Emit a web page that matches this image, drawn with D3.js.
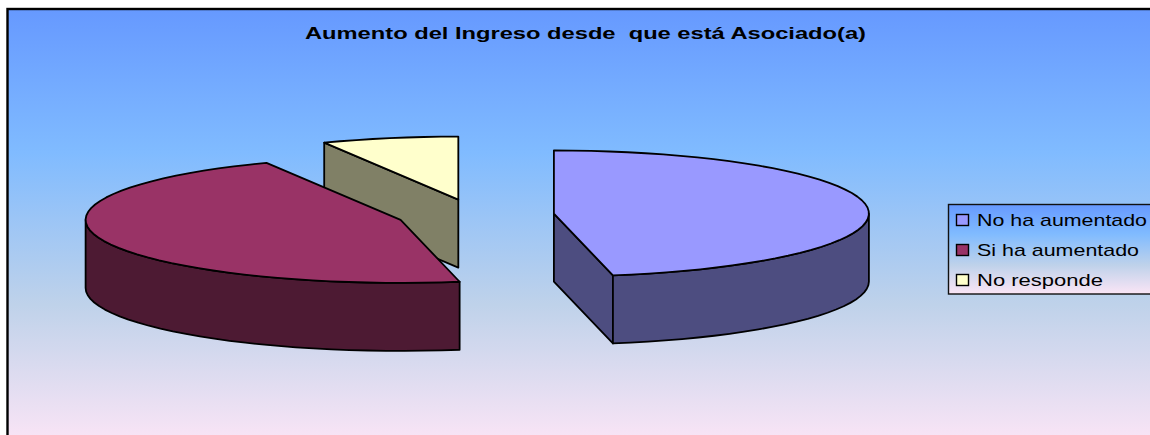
<!DOCTYPE html>
<html><head><meta charset="utf-8">
<script src="https://cdn.jsdelivr.net/npm/d3@7"></script>
<style>html,body{margin:0;padding:0;background:#fff}svg{display:block}</style>
</head><body><svg id="c" width="1150" height="435"></svg>
<script>
const titleText = "Aumento del Ingreso desde  que está Asociado(a)";
const categories = ["No ha aumentado", "Si ha aumentado", "No responde"];
const values = [47, 46, 7];
const topColors = ["#9999FF", "#993366", "#FFFFCC"];
const sideColors = ["#4D4D80", "#4D1A33", "#808066"];

const W = 1150, H = 435;
const svg = d3.select("#c");
const defs = svg.append("defs");
function grad(id) {
  const g = defs.append("linearGradient").attr("id", id).attr("x1", 0).attr("y1", 0).attr("x2", 0).attr("y2", 1);
  [[0, "#6699FF"], [0.33, "#80BBFF"], [0.68, "#BFD2EA"], [1, "#FBE5F6"]].forEach(s =>
    g.append("stop").attr("offset", s[0]).attr("stop-color", s[1]));
}
grad("bg"); grad("lg");

svg.append("rect").attr("x", 7.5).attr("y", 9).attr("width", W).attr("height", H)
  .attr("fill", "url(#bg)").attr("stroke", "#000").attr("stroke-width", 2.4);

svg.append("text").attr("x", 305).attr("y", 38.5).text(titleText)
  .attr("xml:space", "preserve").style("white-space", "pre")
  .attr("font-family", "Liberation Sans").attr("font-weight", "bold").attr("font-size", 16)
  .attr("textLength", 561).attr("lengthAdjust", "spacingAndGlyphs").attr("fill", "#000");

// 3D pie projection
const cx = 475.5, cy = 215, rx = 315, tilt = 0.2, depth = 68, explode = 0.25;
const arcs = d3.pie().sort(null).value(d => d)(values);
const rScale = d3.scaleLinear().domain([0, 1]).range([0, rx]);
function pt(a, r, off, dz) {
  const ex = rScale(explode) * Math.sin(off), ey = rScale(explode) * -Math.cos(off) * tilt;
  return [cx + ex + rScale(r) * Math.sin(a), cy + ey - rScale(r) * Math.cos(a) * tilt + (dz || 0)];
}
const line = d3.line();
function arcPts(a0, a1, off, dz) {
  const n = Math.max(2, Math.ceil((a1 - a0) / 0.06));
  return d3.range(n + 1).map(i => pt(a0 + (a1 - a0) * i / n, 1, off, dz));
}
const stroke = (s) => s.attr("stroke", "#000").attr("stroke-width", 1.8).attr("stroke-linejoin", "round");

// back-to-front: No responde, No ha aumentado, Si ha aumentado
[2, 1, 0].forEach(i => {
  const d = arcs[i], off = (d.startAngle + d.endAngle) / 2;
  const a0 = d.startAngle, a1 = d.endAngle;
  const g = svg.append("g");
  // cut faces visible from the viewer
  const faces = [];
  if (i === 0) faces.push(a1);
  if (i === 2) faces.push(a0);
  faces.forEach(a => {
    g.append("path").attr("d", line([pt(0, 0, off), pt(a, 1, off), pt(a, 1, off, depth), pt(0, 0, off, depth)]) + "Z")
      .attr("fill", sideColors[i]).call(stroke);
  });
  // outer wall: front half of the rim only
  const w0 = Math.max(a0, Math.PI / 2), w1 = Math.min(a1, 3 * Math.PI / 2);
  if (w1 > w0) {
    const up = arcPts(w0, w1, off), dn = arcPts(w0, w1, off, depth).reverse();
    g.append("path").attr("d", line(up.concat(dn)) + "Z").attr("fill", sideColors[i]).call(stroke);
  }
  // top
  g.append("path").attr("d", line([pt(0, 0, off)].concat(arcPts(a0, a1, off))) + "Z")
    .attr("fill", topColors[i]).call(stroke);
});

// legend
const legX = 948.5, legY = 204.5, legH = 89.5, rowY = d3.scalePoint().domain(categories).range([220, 280]);
svg.append("rect").attr("x", legX).attr("y", legY).attr("width", W).attr("height", legH)
  .attr("fill", "url(#lg)").attr("stroke", "#111").attr("stroke-width", 1.4);
const row = svg.selectAll("g.r").data(categories).join("g").attr("class", "r");
row.append("rect").attr("x", 956.5).attr("y", d => rowY(d) - 5.5).attr("width", 12).attr("height", 11)
  .attr("fill", (d, i) => topColors[i]).attr("stroke", "#000").attr("stroke-width", 1.4);
const widths = [170, 162, 126];
row.append("text").attr("x", 977).attr("y", d => rowY(d) + 6).text(d => d)
  .attr("font-family", "Liberation Sans").attr("font-size", 17).attr("fill", "#000")
  .attr("textLength", (d, i) => widths[i]).attr("lengthAdjust", "spacingAndGlyphs");
</script></body></html>
